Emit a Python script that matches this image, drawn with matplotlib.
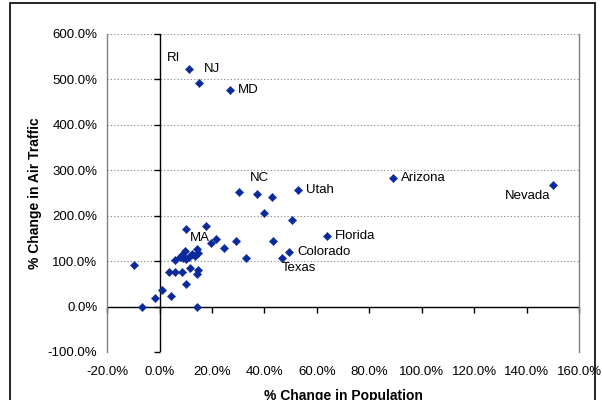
import matplotlib
matplotlib.use("Agg")
import matplotlib.pyplot as plt
from matplotlib.patches import Rectangle
from matplotlib.ticker import FuncFormatter

plt.rcParams["font.family"] = ["Liberation Sans", "DejaVu Sans"]

# --------------------------------------------------
# Data (% change population, % change air traffic)
# --------------------------------------------------
pop_change = [
    11.2, 14.9, 26.7, 30.1, 52.9, 88.9, 149.9, 63.9, 49.4, 46.6,
    -9.9, -6.9, -1.6, 1.1, 4.5, 3.5, 6.0, 8.5, 5.7, 7.8,
    8.8, 9.6, 9.9, 9.9, 11.5, 11.1, 10.0, 14.1, 14.1, 14.7,
    14.1, 14.6, 13.5, 12.5, 17.6, 19.5, 21.4, 24.4, 29.0, 32.9,
    37.3, 39.7, 42.8, 43.2, 50.4, 8.6,
]
air_change = [
    523, 492, 477, 252, 256, 284, 267, 155, 120.5, 108,
    91, -2, 18.5, 37, 23.6, 77, 77, 77, 102, 110,
    106, 123, 171, 49, 84.5, 109, 104, 0, 72, 81,
    126, 118, 112, 115, 178, 141, 148, 129, 145, 106,
    247, 207, 242, 145, 191, 114,
]

# label text and its position
label_names = ["RI", "NJ", "MD", "NC", "Utah", "Arizona", "Nevada",
               "Florida", "Colorado", "Texas", "MA"]
label_x = [2.9, 16.8, 29.7, 34.6, 55.8, 92.0, 149.0, 67.0, 52.4, 46.4, 11.4]
label_y = [547, 524, 477, 282, 257, 284, 244, 155, 120, 84, 152]
label_ha = ["left"] * 6 + ["right"] + ["left"] * 4

xticks = list(range(-20, 161, 20))
yticks = list(range(-100, 601, 100))

# --------------------------------------------------
# Plot
# --------------------------------------------------
fig = plt.figure(figsize=(6.02, 4.0), dpi=100)
ax = fig.add_axes([0.178, 0.12, 0.784, 0.795])

ax.set_xlim(-20, 160)
ax.set_ylim(-100, 600)
ax.set_xticks(xticks)
ax.set_yticks(yticks)
fmt = FuncFormatter(lambda v, p: f"{v:.1f}%")
ax.xaxis.set_major_formatter(fmt)
ax.yaxis.set_major_formatter(fmt)
ax.tick_params(length=0, labelsize=9.5)
ax.tick_params(axis="x", pad=10)
ax.tick_params(axis="y", pad=7)

for y in yticks:
    ax.axhline(y, color="#808080", linestyle=(0, (1, 2)), linewidth=0.8, zorder=1)

for s in ["top", "bottom"]:
    ax.spines[s].set_visible(False)
for s in ["left", "right"]:
    ax.spines[s].set_color("#808080")
    ax.spines[s].set_linewidth(1)

# axes crossing at zero, with tick marks
ax.axhline(0, color="black", linewidth=1, zorder=2)
ax.axvline(0, color="black", linewidth=1, zorder=2)
ax.plot(xticks, [0] * len(xticks), linestyle="none", marker=3,
        markersize=4, color="black", markeredgewidth=1, clip_on=False, zorder=2)
ax.plot([0] * len(yticks), yticks, linestyle="none", marker=0,
        markersize=4, color="black", markeredgewidth=1, clip_on=False, zorder=2)

ax.scatter(pop_change, air_change, marker="D", s=18, color="#0a2a9c",
           edgecolors="#0a2a9c", linewidths=0.3, zorder=3)

for name, lx, ly, ha in zip(label_names, label_x, label_y, label_ha):
    ax.text(lx, ly, name, fontsize=9.5, ha=ha, va="center", zorder=4)

ax.set_xlabel("% Change in Population", fontsize=10, fontweight="bold", labelpad=8)
ax.set_ylabel("% Change in Air Traffic", fontsize=10, fontweight="bold", labelpad=4)

# outer chart frame
fig.patches.append(Rectangle((10 / 602, -0.05), 585 / 602, 1.05 - 3 / 400,
                             transform=fig.transFigure, fill=False,
                             edgecolor="black", linewidth=1.2))

plt.savefig("out.png", dpi=100)
